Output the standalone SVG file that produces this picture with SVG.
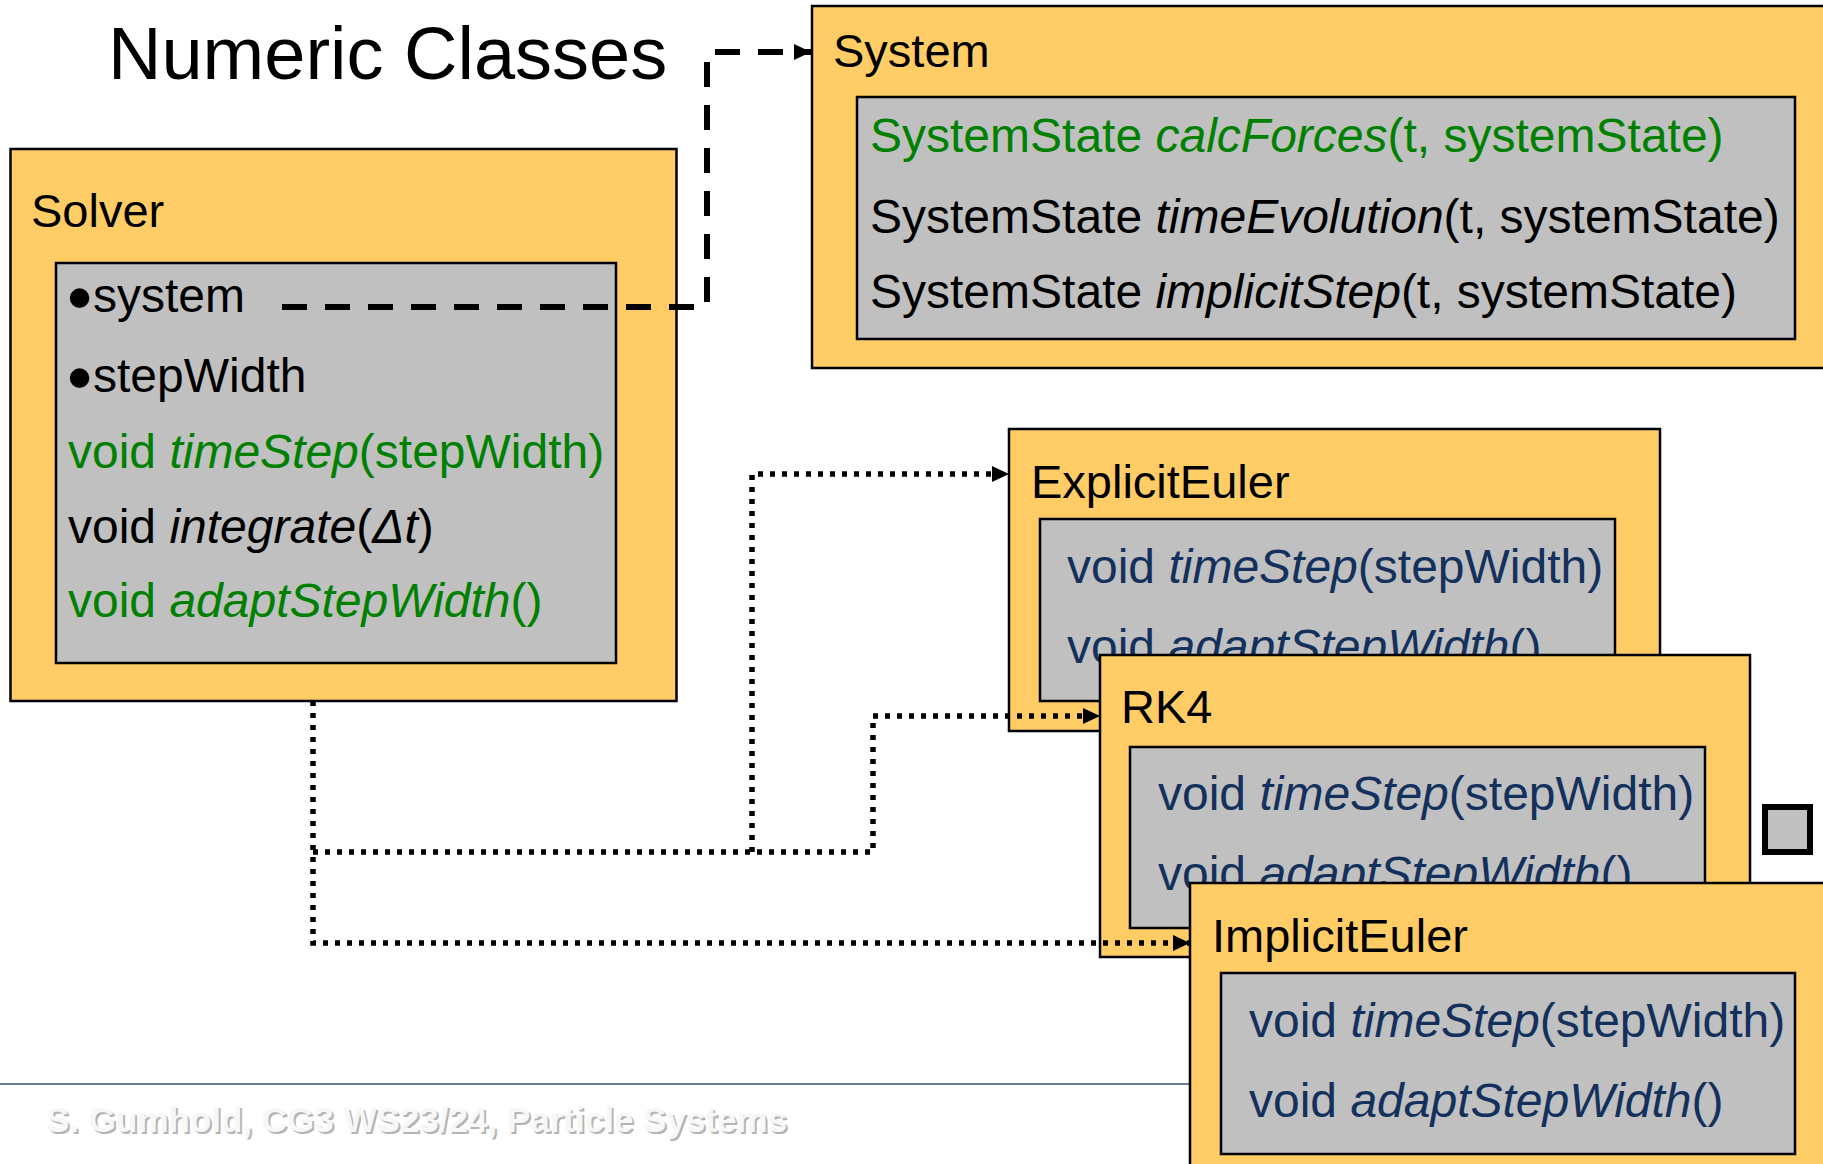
<svg xmlns="http://www.w3.org/2000/svg" width="1823" height="1164" viewBox="0 0 1823 1164">
  <defs>
    <style>
      .box { fill: #FFCC66; stroke: #000; stroke-width: 2.5; }
      .inner { fill: #C0C0C0; stroke: #000; stroke-width: 2.5; }
      text { font-family: "Liberation Sans", Arial, sans-serif; fill: #000; }
      .t { font-size: 48px; }
      .lbl { font-size: 47px; }
      .bul { font-size: 72px; }
      .green { fill: #008000; }
      .navy { fill: #13315C; }
      .i { font-style: italic; }
      .dash { fill: none; stroke: #000; stroke-width: 6; stroke-dasharray: 25 18; }
      .dot { fill: none; stroke: #000; stroke-width: 5.5; stroke-dasharray: 5 7; }
      .foot { font-size: 35px; font-weight: bold; }
    </style>
    <marker id="arr" markerUnits="userSpaceOnUse" markerWidth="18" markerHeight="16" refX="17" refY="8" orient="auto">
      <path d="M0,0 L17,8 L0,16 z" fill="#000"/>
    </marker>
  </defs>

  <rect width="1823" height="1164" fill="#fff"/>

  <!-- slide title -->
  <text x="108" y="79" font-size="74">Numeric Classes</text>

  <!-- footer rule and caption -->
  <line x1="0" y1="1084" x2="1190" y2="1084" stroke="#687C97" stroke-width="2"/>
  <text class="foot" x="48" y="1134" style="fill:#B4B4B4">S. Gumhold, CG3 WS23/24, Particle Systems</text>
  <text class="foot" x="46" y="1132" style="fill:#F7F7F7">S. Gumhold, CG3 WS23/24, Particle Systems</text>

  <!-- System class -->
  <g id="system">
    <rect class="box" x="812" y="6" width="1100" height="362"/>
    <text class="lbl" x="833" y="67">System</text>
    <rect class="inner" x="857" y="97" width="938" height="242"/>
    <text class="t green" x="870" y="152">SystemState <tspan class="i">calcForces</tspan>(t, systemState)</text>
    <text class="t" x="870" y="233">SystemState <tspan class="i">timeEvolution</tspan>(t, systemState)</text>
    <text class="t" x="870" y="308">SystemState <tspan class="i">implicitStep</tspan>(t, systemState)</text>
  </g>

  <!-- Solver base class -->
  <g id="solver">
    <rect class="box" x="10.5" y="149" width="666" height="552"/>
    <text class="lbl" x="31" y="227">Solver</text>
    <rect class="inner" x="56" y="263" width="560" height="400"/>
    <text class="bul" x="67" y="322">•</text>
    <text class="t" x="93" y="312">system</text>
    <text class="bul" x="67" y="402">•</text>
    <text class="t" x="93" y="392">stepWidth</text>
    <text class="t green" x="68" y="468">void <tspan class="i">timeStep</tspan>(stepWidth)</text>
    <text class="t" x="68" y="543">void <tspan class="i">integrate</tspan>(<tspan class="i">Δt</tspan>)</text>
    <text class="t green" x="68" y="617">void <tspan class="i">adaptStepWidth</tspan>()</text>
  </g>

  <!-- ExplicitEuler subclass -->
  <g id="explicit-euler">
    <rect class="box" x="1009" y="429" width="651" height="302"/>
    <text class="lbl" x="1031" y="498">ExplicitEuler</text>
    <rect class="inner" x="1040" y="519" width="575" height="182"/>
    <text class="t navy" x="1067" y="583">void <tspan class="i">timeStep</tspan>(stepWidth)</text>
    <text class="t navy" x="1067" y="663">void <tspan class="i">adaptStepWidth</tspan>()</text>
  </g>

  <!-- RK4 subclass -->
  <g id="rk4">
    <rect class="box" x="1100" y="655" width="650" height="302"/>
    <text class="lbl" x="1121" y="723">RK4</text>
    <rect class="inner" x="1130" y="747" width="575" height="181"/>
    <text class="t navy" x="1158" y="810">void <tspan class="i">timeStep</tspan>(stepWidth)</text>
    <text class="t navy" x="1158" y="890">void <tspan class="i">adaptStepWidth</tspan>()</text>
  </g>

  <!-- ImplicitEuler subclass -->
  <g id="implicit-euler">
    <rect class="box" x="1190" y="883" width="700" height="400"/>
    <text class="lbl" x="1212" y="952">ImplicitEuler</text>
    <rect class="inner" x="1221" y="973" width="574" height="181"/>
    <text class="t navy" x="1249" y="1037">void <tspan class="i">timeStep</tspan>(stepWidth)</text>
    <text class="t navy" x="1249" y="1117">void <tspan class="i">adaptStepWidth</tspan>()</text>
  </g>

  <!-- small grey square -->
  <g id="square">
    <rect x="1765" y="807" width="45" height="45" fill="#C0C0C0" stroke="#000" stroke-width="6"/>
  </g>

  <!-- connectors -->
  <g id="connectors">
    <path class="dash" d="M282,307 H707 V52 H811" marker-end="url(#arr)"/>
    <path class="dot" d="M313,701 V943 H1190" marker-end="url(#arr)"/>
    <path class="dot" d="M313,852 H873 V716 H1100" marker-end="url(#arr)"/>
    <path class="dot" d="M752,852 V474 H1009" marker-end="url(#arr)"/>
  </g>
</svg>
